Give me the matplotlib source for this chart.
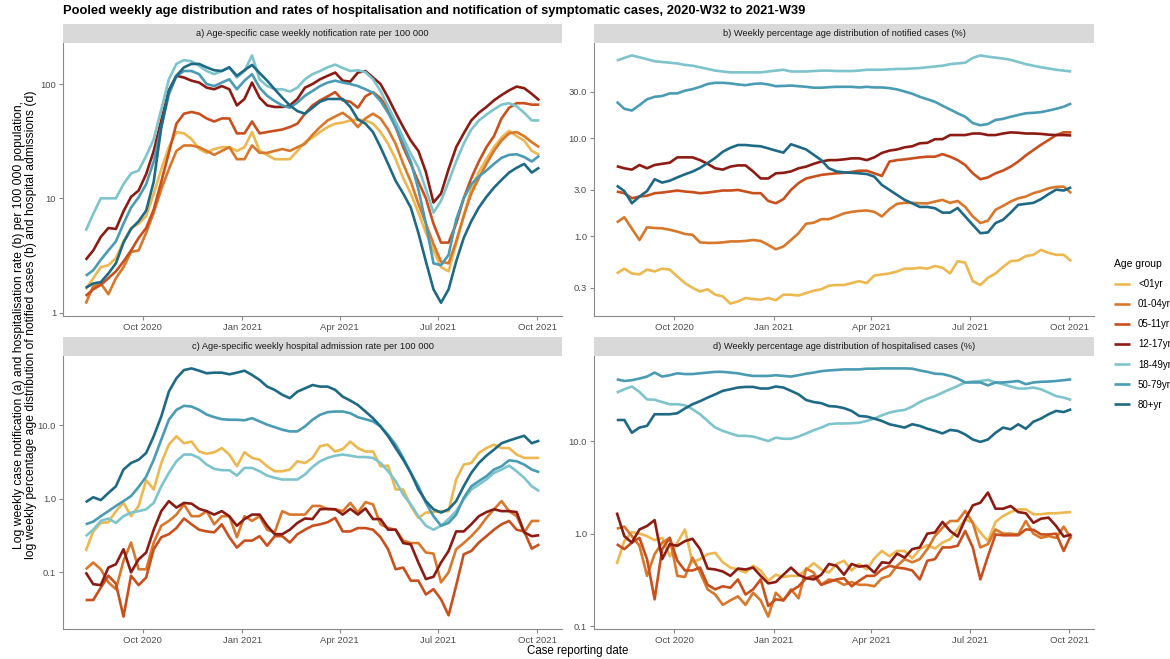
import pandas as pd
import matplotlib
matplotlib.use("Agg")
import matplotlib.pyplot as plt
import matplotlib.dates as mdates
from matplotlib.ticker import FixedLocator, FixedFormatter, NullLocator

plt.rcParams['font.family'] = ['Liberation Sans', 'DejaVu Sans']

# weekly points, 2020-W32 to 2021-W39
weeks = pd.date_range("2020-08-09", periods=61, freq="7D")

groups = ["<01yr", "01-04yr", "05-11yr", "12-17yr", "18-49yr", "50-79yr", "80+yr"]
colours = ["#EDB84F", "#D9772B", "#C9501D", "#8C1C13", "#7EC4CC", "#4A9CB4", "#1E6A86"]

# a) notification rate per 100 000
a_lt01 = [1.6, 2.0, 2.5, 2.6, 3.0, 4.2, 5.5, 6.0, 7.0, 11, 18, 28, 38, 37, 33, 27, 25, 27, 28, 28, 26, 28, 38, 26, 24, 22, 22, 22, 26, 31, 34, 38, 42, 45, 46, 48, 49, 48, 45, 38, 30, 22, 15, 11, 7.5, 5.0, 3.5, 2.5, 2.3, 4.0, 7.0, 12, 17, 22, 28, 34, 39, 35, 32, 26, 24]
a_0104 = [1.2, 1.7, 1.8, 1.45, 2.0, 2.5, 3.4, 3.5, 5.0, 7.5, 12, 18, 26, 29, 29, 28, 26, 24, 26, 28, 22, 22, 29, 25, 25, 26, 27, 26, 28, 30, 36, 42, 48, 52, 56, 50, 42, 50, 55, 50, 40, 30, 20, 14, 9, 6, 4.0, 2.8, 2.7, 4.2, 7, 11, 15, 20, 26, 32, 37, 38, 35, 31, 28]
a_0511 = [1.4, 1.6, 1.75, 2.0, 2.3, 2.8, 3.5, 4.5, 5.5, 8, 14, 25, 45, 55, 57, 55, 50, 47, 50, 50, 37, 37, 47, 37, 38, 39, 40, 42, 45, 55, 65, 72, 78, 85, 72, 70, 62, 78, 85, 75, 60, 42, 28, 20, 14, 10, 6, 4.1, 4.1, 6, 10, 15, 21, 28, 35, 50, 62, 68, 68, 66, 66]
a_1217 = [2.9, 3.5, 4.6, 5.5, 5.4, 7.7, 10.3, 11.7, 16.3, 26, 48, 88, 118, 114, 107, 103, 93, 90, 96, 90, 65, 74, 103, 76, 65, 63, 63, 65, 74, 93, 100, 110, 118, 126, 107, 105, 126, 130, 114, 100, 76, 56, 42, 32, 26, 17, 9.2, 11, 18, 28, 37, 48, 56, 63, 72, 80, 88, 95, 92, 82, 72]
a_1849 = [5.2, 7.3, 10, 10, 10, 13.3, 16.5, 17.5, 23.5, 33, 60, 110, 150, 162, 158, 144, 130, 122, 130, 140, 114, 130, 178, 110, 96, 90, 90, 86, 93, 110, 122, 130, 140, 148, 138, 130, 132, 127, 110, 87, 64, 47, 34, 24.5, 18.6, 12, 7.5, 9.5, 14, 21, 30, 40, 48, 54, 60, 66, 68, 64, 56, 48, 48]
a_5079 = [2.1, 2.35, 2.9, 3.5, 4.2, 6, 8.3, 10.2, 13.3, 21, 42, 81, 118, 130, 130, 122, 100, 96, 103, 110, 90, 107, 122, 93, 79, 71, 65, 62, 69, 79, 87, 96, 103, 107, 103, 100, 96, 90, 84, 71, 56, 42, 30, 21, 12, 6, 2.7, 2.6, 3.2, 6.5, 10, 13.3, 15.5, 17.5, 20, 22.6, 24, 24.3, 23, 21, 23.6]
a_80 = [1.65, 1.8, 1.85, 2.2, 2.7, 4.1, 5.4, 6.3, 7.8, 14, 42, 87, 118, 140, 150, 150, 140, 132, 130, 140, 118, 132, 147, 125, 107, 90, 76, 65, 58, 55, 62, 70, 74, 74, 74, 63, 49, 45, 38, 28, 20, 14.2, 11, 8.3, 5, 2.8, 1.6, 1.22, 1.6, 2.8, 4.5, 6.3, 8.3, 10.3, 12.4, 14.5, 16.8, 18.5, 20, 16.8, 18.6]

# b) % age distribution of notified cases
b_lt01 = [0.42, 0.47, 0.42, 0.41, 0.46, 0.44, 0.47, 0.46, 0.39, 0.335, 0.3, 0.275, 0.29, 0.255, 0.245, 0.207, 0.218, 0.236, 0.23, 0.227, 0.236, 0.224, 0.255, 0.255, 0.25, 0.265, 0.28, 0.29, 0.315, 0.32, 0.32, 0.335, 0.35, 0.335, 0.4, 0.41, 0.42, 0.44, 0.47, 0.47, 0.48, 0.47, 0.5, 0.48, 0.42, 0.56, 0.54, 0.35, 0.32, 0.38, 0.42, 0.49, 0.56, 0.57, 0.63, 0.65, 0.73, 0.68, 0.65, 0.65, 0.56]
b_0104 = [1.39, 1.57, 1.2, 0.92, 1.24, 1.22, 1.21, 1.17, 1.12, 1.06, 1.04, 0.87, 0.86, 0.86, 0.87, 0.89, 0.89, 0.9, 0.92, 0.9, 0.82, 0.74, 0.79, 0.92, 1.08, 1.35, 1.38, 1.5, 1.5, 1.6, 1.72, 1.78, 1.82, 1.84, 1.78, 1.6, 1.9, 2.15, 2.2, 2.2, 2.18, 2.17, 2.27, 2.36, 2.2, 2.3, 2.0, 1.6, 1.37, 1.45, 1.87, 2.05, 2.27, 2.45, 2.55, 2.76, 2.9, 3.1, 3.2, 3.22, 2.76]
b_0511 = [2.87, 2.76, 2.45, 2.55, 2.6, 2.76, 2.8, 2.87, 2.94, 2.87, 2.83, 2.76, 2.8, 2.87, 2.94, 2.94, 2.98, 2.87, 2.76, 2.76, 2.3, 2.18, 2.4, 2.98, 3.5, 3.9, 4.07, 4.24, 4.33, 4.4, 4.45, 4.55, 4.68, 4.68, 4.4, 4.14, 5.8, 6.0, 6.1, 6.25, 6.4, 6.5, 6.5, 6.9, 6.5, 6.0, 5.35, 4.4, 3.83, 4.0, 4.4, 4.7, 5.15, 5.8, 6.7, 7.6, 8.6, 9.6, 10.8, 11.5, 11.5]
b_1217 = [5.2, 4.95, 4.8, 5.35, 4.95, 5.35, 5.5, 5.65, 6.4, 6.4, 6.4, 6.0, 5.5, 4.95, 4.8, 5.15, 5.3, 5.3, 4.6, 3.9, 3.9, 4.4, 4.45, 4.6, 4.95, 5.15, 5.5, 5.8, 6.0, 6.0, 6.1, 6.25, 6.25, 6.0, 6.4, 7.1, 7.5, 7.7, 8.1, 8.3, 8.9, 9.0, 9.8, 9.8, 10.8, 10.8, 10.8, 11.2, 11.2, 10.8, 10.8, 11.2, 11.5, 11.4, 11.2, 11.2, 11.1, 10.9, 10.8, 10.8, 10.7]
b_1849 = [62, 66, 70, 67, 64, 61, 60, 59, 58, 56, 55, 53, 51, 49, 48, 47, 47, 47, 47, 47, 48, 49, 50, 48, 48, 48, 48.5, 49, 49, 48.5, 48.5, 48.5, 49, 50, 50, 50, 50.5, 51, 51, 51.5, 52, 53, 54, 55, 57, 58, 59, 66, 70, 68, 66.5, 65, 63, 60, 57, 55, 53, 51.5, 50, 49, 48]
b_5079 = [23.6, 20, 19.2, 21.8, 25, 26.5, 27, 28.7, 28.7, 30.6, 31.7, 33.5, 35.8, 36.8, 36.8, 36.3, 35.4, 34.8, 35.8, 36.3, 35.4, 34, 34.2, 34.5, 34, 33.5, 32.8, 32.8, 33.2, 33.5, 33.5, 33.5, 33, 33.5, 33, 33, 32.5, 31.5, 30, 28.5, 26.5, 25, 23.6, 21.5, 19.7, 18, 16.6, 14.3, 13.6, 14, 15.4, 15.8, 16.6, 17.3, 18, 18.2, 18.5, 19.2, 20, 21, 22.7]
b_80 = [3.3, 2.9, 2.18, 2.55, 2.9, 3.83, 3.54, 3.7, 4.0, 4.3, 4.58, 5.0, 5.6, 6.3, 7.3, 8.0, 8.55, 8.55, 8.4, 8.3, 7.9, 7.5, 7.15, 8.7, 8.2, 7.7, 6.8, 6.0, 4.95, 4.6, 4.5, 4.45, 4.4, 4.33, 4.07, 3.35, 2.98, 2.65, 2.36, 2.18, 2.0, 2.0, 1.94, 1.75, 1.75, 1.95, 1.6, 1.31, 1.08, 1.1, 1.37, 1.48, 1.75, 2.1, 2.15, 2.2, 2.4, 2.7, 3.0, 2.94, 3.17]

# c) hospital admission rate per 100 000
c_lt01 = [0.195, 0.36, 0.47, 0.48, 0.68, 0.88, 0.58, 0.8, 1.79, 1.34, 3.07, 5.45, 7.1, 5.7, 6.0, 4.4, 4.1, 4.3, 4.9, 4.0, 2.77, 4.3, 3.6, 3.4, 2.77, 2.37, 2.37, 2.5, 3.24, 3.07, 3.6, 5.2, 5.45, 4.4, 4.75, 6.0, 4.9, 4.4, 4.4, 2.77, 2.83, 1.34, 1.34, 0.8, 0.55, 0.65, 0.66, 0.68, 0.68, 1.83, 2.92, 3.07, 4.2, 4.9, 5.45, 4.9, 4.9, 4.0, 3.6, 3.6, 3.6]
c_0104 = [0.11, 0.136, 0.11, 0.073, 0.059, 0.143, 0.254, 0.11, 0.11, 0.254, 0.43, 0.5, 0.61, 0.84, 0.58, 0.58, 0.68, 0.45, 0.58, 0.58, 0.3, 0.58, 0.5, 0.58, 0.38, 0.35, 0.68, 0.61, 0.61, 0.61, 0.8, 0.8, 0.72, 0.72, 0.68, 0.88, 0.65, 0.9, 0.84, 0.45, 0.4, 0.38, 0.27, 0.25, 0.25, 0.186, 0.18, 0.073, 0.1, 0.206, 0.25, 0.31, 0.4, 0.55, 0.72, 0.93, 0.68, 0.58, 0.35, 0.5, 0.5]
c_0511 = [0.042, 0.042, 0.062, 0.09, 0.07, 0.025, 0.09, 0.067, 0.085, 0.206, 0.3, 0.33, 0.4, 0.54, 0.45, 0.38, 0.36, 0.35, 0.45, 0.3, 0.217, 0.27, 0.27, 0.31, 0.23, 0.31, 0.31, 0.254, 0.33, 0.38, 0.43, 0.45, 0.48, 0.55, 0.36, 0.36, 0.4, 0.4, 0.38, 0.3, 0.206, 0.11, 0.116, 0.077, 0.077, 0.05, 0.059, 0.043, 0.026, 0.066, 0.176, 0.195, 0.254, 0.31, 0.38, 0.45, 0.5, 0.38, 0.36, 0.21, 0.24]
c_1217 = [0.1, 0.069, 0.067, 0.116, 0.129, 0.206, 0.1, 0.15, 0.186, 0.38, 0.68, 0.93, 0.76, 0.88, 0.86, 0.73, 0.68, 0.61, 0.68, 0.58, 0.43, 0.53, 0.61, 0.61, 0.43, 0.33, 0.33, 0.38, 0.47, 0.54, 0.53, 0.72, 0.73, 0.72, 0.61, 0.73, 0.61, 0.74, 0.53, 0.53, 0.38, 0.38, 0.25, 0.24, 0.136, 0.081, 0.087, 0.136, 0.195, 0.36, 0.36, 0.45, 0.58, 0.66, 0.72, 0.68, 0.68, 0.66, 0.35, 0.31, 0.32]
c_1849 = [0.31, 0.38, 0.5, 0.54, 0.47, 0.58, 0.65, 0.68, 0.72, 0.88, 1.48, 2.25, 3.24, 4.0, 4.0, 3.6, 2.92, 2.55, 2.45, 2.45, 2.07, 2.63, 2.63, 2.37, 2.07, 1.93, 1.83, 1.83, 1.83, 2.14, 2.71, 3.24, 3.6, 3.86, 4.0, 3.86, 3.7, 3.7, 3.6, 3.07, 2.37, 1.74, 1.14, 0.84, 0.58, 0.43, 0.38, 0.43, 0.53, 0.68, 0.98, 1.34, 1.56, 1.83, 2.25, 2.5, 2.83, 2.37, 1.93, 1.48, 1.27]
c_5079 = [0.45, 0.49, 0.58, 0.68, 0.8, 0.93, 1.09, 1.45, 2.0, 3.4, 6.4, 11.9, 16.2, 18.4, 18.0, 16.2, 14.0, 12.9, 12.1, 11.9, 11.9, 11.7, 12.5, 11.3, 10.2, 9.44, 8.7, 8.26, 8.26, 9.65, 11.9, 13.9, 15.1, 15.4, 15.4, 14.6, 12.9, 12.1, 11.3, 9.65, 7.4, 5.45, 3.6, 2.25, 1.48, 0.88, 0.58, 0.43, 0.47, 0.61, 1.03, 1.48, 1.74, 2.03, 2.5, 2.77, 3.34, 3.24, 2.92, 2.5, 2.3]
c_80 = [0.9, 1.05, 0.96, 1.2, 1.48, 2.5, 3.07, 3.4, 4.2, 7.1, 13.2, 28.7, 43.6, 56.4, 59.4, 55.3, 51, 52, 52, 49.4, 52, 55.3, 48.4, 41.4, 33.6, 30.3, 26, 23.4, 28.7, 31.8, 35.3, 33.6, 33.6, 30.3, 24.5, 21.7, 18.9, 15.4, 12.5, 9.65, 7.1, 4.9, 3.4, 2.25, 1.34, 0.93, 0.72, 0.65, 0.72, 0.93, 1.48, 2.25, 3.07, 3.86, 4.66, 5.7, 6.2, 6.7, 7.2, 5.7, 6.2]

# d) % age distribution of hospitalised cases
d_lt01 = [0.47, 0.83, 1.04, 1.0, 0.94, 0.85, 0.9, 0.57, 0.8, 1.11, 0.49, 0.53, 0.6, 0.62, 0.49, 0.43, 0.41, 0.38, 0.45, 0.4, 0.31, 0.36, 0.34, 0.35, 0.35, 0.41, 0.48, 0.41, 0.38, 0.47, 0.51, 0.4, 0.47, 0.41, 0.54, 0.65, 0.57, 0.65, 0.65, 0.54, 0.68, 0.75, 0.69, 0.8, 0.87, 1.11, 1.43, 1.31, 1.03, 0.83, 1.34, 1.55, 1.71, 1.83, 1.83, 1.62, 1.62, 1.66, 1.66, 1.69, 1.71]
d_0104 = [1.13, 1.19, 0.94, 0.74, 0.35, 0.6, 0.8, 0.9, 0.35, 0.34, 0.55, 0.38, 0.25, 0.22, 0.17, 0.19, 0.21, 0.17, 0.23, 0.19, 0.127, 0.23, 0.19, 0.25, 0.2, 0.42, 0.38, 0.28, 0.32, 0.31, 0.28, 0.3, 0.28, 0.28, 0.27, 0.33, 0.35, 0.45, 0.53, 0.49, 0.53, 0.68, 0.94, 1.16, 1.37, 1.37, 1.76, 1.31, 0.71, 0.77, 1.11, 1.0, 1.0, 0.98, 1.37, 1.0, 0.9, 0.94, 0.9, 1.19, 0.88]
d_0511 = [0.77, 0.68, 0.8, 0.9, 0.53, 0.195, 0.68, 0.9, 0.51, 0.4, 0.4, 0.43, 0.28, 0.25, 0.27, 0.26, 0.32, 0.22, 0.25, 0.32, 0.165, 0.195, 0.19, 0.24, 0.27, 0.33, 0.35, 0.28, 0.3, 0.32, 0.33, 0.27, 0.31, 0.35, 0.35, 0.41, 0.45, 0.43, 0.42, 0.4, 0.32, 0.51, 0.53, 0.71, 0.71, 0.74, 1.07, 0.71, 0.32, 0.57, 0.98, 0.96, 0.96, 0.96, 1.11, 1.1, 0.98, 0.98, 1.0, 0.65, 0.98]
d_1217 = [1.69, 0.94, 0.8, 1.11, 1.21, 1.4, 0.53, 0.77, 0.74, 0.83, 0.88, 0.68, 0.42, 0.41, 0.39, 0.35, 0.42, 0.41, 0.43, 0.35, 0.29, 0.3, 0.36, 0.43, 0.36, 0.33, 0.32, 0.36, 0.47, 0.45, 0.36, 0.47, 0.44, 0.45, 0.38, 0.49, 0.48, 0.61, 0.55, 0.68, 0.71, 1.0, 1.03, 1.34, 1.07, 0.93, 1.43, 2.02, 2.16, 2.78, 1.86, 1.86, 1.99, 1.71, 1.66, 1.31, 1.45, 1.49, 1.21, 0.93, 0.98]
d_1849 = [33.4, 36.3, 38.9, 34, 28.2, 28, 26.4, 25, 25, 24.4, 22.1, 19.5, 16.5, 14, 12.9, 12.1, 11.4, 11.4, 11.2, 10.6, 10, 10.9, 10.6, 10.6, 11.2, 12.1, 13.1, 14, 15.2, 15.5, 15.5, 15.6, 15.8, 16.5, 17.5, 19, 20.3, 21.2, 21.7, 23.6, 26.4, 28.7, 30.6, 33.4, 36.3, 39.4, 43, 44, 44.6, 45.8, 43, 41.2, 38.9, 37, 37, 37.9, 36.3, 33.4, 30.6, 29.5, 27.8]
d_5079 = [46.5, 44.6, 45.5, 47.4, 49.8, 55, 49.8, 51.5, 54, 53, 53, 54, 55, 56, 56, 55, 54, 52, 50.6, 50.6, 50.6, 51.5, 50.6, 49.8, 51.5, 53.5, 55, 57, 58, 58.7, 59.5, 59.5, 59.5, 60.6, 60.6, 61, 61, 61, 61, 60.6, 58, 56, 53.5, 53, 50.6, 47.4, 43, 43, 43, 40, 43, 43, 43.7, 44.6, 41.2, 43, 43.7, 44, 44.6, 45.5, 46.5]
d_80 = [16.9, 16.9, 12.3, 14, 14.6, 19.5, 19.5, 19.5, 20, 22.5, 25, 27, 29.5, 32, 34.9, 36.3, 37.9, 38.5, 38.5, 37, 37, 38.9, 37.9, 34.9, 32, 27.8, 26.4, 25.7, 23.9, 23.6, 22.7, 21.2, 18.7, 18.4, 17.5, 16.5, 15.2, 14.6, 14, 15.2, 14.6, 13.6, 12.9, 12.1, 13.2, 12.9, 11.8, 10.4, 9.8, 10.4, 12.3, 14, 13.4, 15.2, 13.6, 16.2, 17.5, 19.5, 21.2, 20.6, 22.1]

panels = [
    ("a) Age-specific case weekly notification rate per 100 000",
     [a_lt01, a_0104, a_0511, a_1217, a_1849, a_5079, a_80],
     [1, 10, 100], ["1", "10", "100"]),
    ("b) Weekly percentage age distribution of notified cases (%)",
     [b_lt01, b_0104, b_0511, b_1217, b_1849, b_5079, b_80],
     [0.3, 1, 3, 10, 30], ["0.3", "1.0", "3.0", "10.0", "30.0"]),
    ("c) Age-specific weekly hospital admission rate per 100 000",
     [c_lt01, c_0104, c_0511, c_1217, c_1849, c_5079, c_80],
     [0.1, 1, 10], ["0.1", "1.0", "10.0"]),
    ("d) Weekly percentage age distribution of hospitalised cases (%)",
     [d_lt01, d_0104, d_0511, d_1217, d_1849, d_5079, d_80],
     [0.1, 1, 10], ["0.1", "1.0", "10.0"]),
]

W, H = 1170, 659
fig = plt.figure(figsize=(W / 100, H / 100), dpi=100)

# panel boxes in pixels: left, top, right, bottom
boxes = [(63, 43, 562, 316), (594, 43, 1094, 316),
         (63, 356, 562, 629), (594, 356, 1094, 629)]
strip_h = 19
axis_grey = "#8A8A8A"

for (title, series, yt, ytl), (l, t, r, b) in zip(panels, boxes):
    ax = fig.add_axes([l / W, 1 - b / H, (r - l) / W, (b - t) / H])
    for vals, name, col in zip(series, groups, colours):
        assert len(vals) == len(weeks), name
        ax.plot(weeks, vals, color=col, lw=1.9, label=name, solid_capstyle="butt")
    ax.set_yscale("log")
    ax.margins(x=0.05, y=0.05)
    ax.yaxis.set_major_locator(FixedLocator(yt))
    ax.yaxis.set_major_formatter(FixedFormatter(ytl))
    ax.yaxis.set_minor_locator(NullLocator())
    ax.xaxis.set_major_locator(mdates.MonthLocator(bymonth=[1, 4, 7, 10]))
    ax.xaxis.set_major_formatter(mdates.DateFormatter("%b %Y"))
    for s in ["top", "right"]:
        ax.spines[s].set_visible(False)
    for s in ["left", "bottom"]:
        ax.spines[s].set_color(axis_grey)
        ax.spines[s].set_linewidth(0.8)
    ax.tick_params(colors=axis_grey, labelcolor="#4D4D4D", labelsize=6.8,
                   length=3, width=0.8, pad=2)

    sax = fig.add_axes([l / W, 1 - t / H, (r - l) / W, strip_h / H])
    sax.set_facecolor("#D9D9D9")
    sax.set_xticks([])
    sax.set_yticks([])
    for s in sax.spines.values():
        s.set_visible(False)
    sax.text(0.5, 0.5, title, ha="center", va="center", fontsize=6.7,
             color="#1A1A1A", transform=sax.transAxes)

    if title.startswith("a)"):
        handles, labels = ax.get_legend_handles_labels()

fig.text(63 / W, 1 - 11 / H,
         "Pooled weekly age distribution and rates of hospitalisation and notification of symptomatic cases, 2020-W32 to 2021-W39",
         fontsize=9.25, fontweight="bold", va="center", ha="left")

fig.text(25 / W, 1 - 325 / H,
         "Log weekly case notification (a) and hospitalisation rate (b) per 100 000 population,\n"
         "log weekly percentage age distribution of notified cases (b) and hospital admissions (d)",
         rotation=90, ha="center", va="center", fontsize=8.7, linespacing=1.05)

fig.text(578 / W, 1 - 651 / H, "Case reporting date", ha="center", va="center", fontsize=8.3)

fig.legend(handles, labels, loc="upper left", bbox_to_anchor=(1114 / W, 1 - 259 / H),
           frameon=False, title="Age group", fontsize=7, title_fontsize=7.5,
           handlelength=1.65, labelspacing=1.04, handletextpad=0.82,
           alignment="left", borderaxespad=0, borderpad=0)

fig.savefig("out.png", dpi=100)
